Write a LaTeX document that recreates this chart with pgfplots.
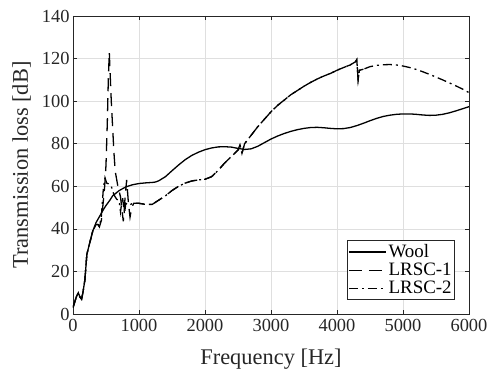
\documentclass[border=0pt]{standalone}
\usepackage{fontspec}
\setmainfont{Liberation Serif}
\usepackage{pgfplots}
\pgfplotsset{compat=1.18}
\definecolor{axgray}{RGB}{38,38,38}
\definecolor{gridgray}{RGB}{223,223,223}
\begin{document}
\begin{tikzpicture}
\begin{axis}[
  scale only axis, width=396bp, height=298bp,
  xmin=0, xmax=6000, ymin=0, ymax=140,
  xtick={0,1000,...,6000}, ytick={0,20,...,140},
  xticklabels={\textrm{0},\textrm{1000},\textrm{2000},\textrm{3000},\textrm{4000},\textrm{5000},\textrm{6000}},
  yticklabels={\textrm{0},\textrm{20},\textrm{40},\textrm{60},\textrm{80},\textrm{100},\textrm{120},\textrm{140}},
  tick label style={font=\fontsize{18.5}{20}\selectfont\rmfamily, text=axgray},
  xticklabel style={yshift=-2bp},
  label style={font=\fontsize{22.5}{24}\selectfont, text=axgray},
  xlabel={Frequency [Hz]}, ylabel={Transmission loss [dB]},
  xlabel style={yshift=-10bp}, ylabel style={yshift=4bp},
  axis line style={axgray, line width=0.6pt},
  tick style={axgray, line width=0.6pt}, tick align=inside,
  major tick length=4bp,
  grid=major, major grid style={gridgray, line width=0.6pt},
  legend style={at={(rel axis cs:0.9646,0.047)}, anchor=south east,
    font=\fontsize{19}{21}\selectfont, draw=axgray, line width=0.6pt, inner xsep=1bp, inner ysep=2.5bp,
    row sep=0bp, cells={anchor=west}},
  legend image code/.code={\draw[#1, line width=1.3pt] (0bp,0bp) -- (37bp,0bp);},
]
\addplot[black, line width=1.3pt, solid] coordinates {
(0,3) (20,5) (50,8) (80,10) (105,8) (130,7) (150,10) (180,16) (210,28) (250,33) (300,39)
(350,43) (400,45.7) (450,48.5) (500,51) (560,53.5) (600,55.5) (700,58) (800,59.7) (900,60.7)
(1000,61.3) (1100,61.6) (1200,61.8) (1250,62) (1300,62.6) (1400,64.5) (1500,67.3) (1600,70)
(1700,72.5) (1800,74.5) (1900,76) (2000,77.2) (2100,78) (2200,78.5) (2300,78.6) (2400,78.4)
(2500,77.8) (2600,77.3) (2700,77.6) (2800,78.8) (2900,80.5) (3000,82.2) (3100,83.6) (3200,84.8)
(3300,85.8) (3400,86.6) (3500,87.2) (3600,87.6) (3700,87.7) (3800,87.5) (3900,87.2) (4000,87)
(4100,87.1) (4200,87.6) (4300,88.5) (4400,89.6) (4500,90.8) (4600,91.9) (4700,92.8) (4800,93.4)
(4900,93.8) (5000,94) (5100,94) (5200,93.8) (5300,93.5) (5400,93.3) (5500,93.4) (5600,93.8)
(5700,94.5) (5800,95.4) (5900,96.4) (6000,97.4)
};
\addlegendentry{Wool}
\addplot[black, line width=1.3pt, dash pattern=on 13bp off 7bp] coordinates {
(0,3) (20,5) (50,8) (80,10) (105,8) (130,7) (150,10) (180,16) (210,28) (250,33) (300,39)
(350,42) (380,42) (400,41) (430,44) (450,50) (480,60) (500,70) (520,90) (535,110) (550,123)
(560,115) (580,100) (600,88) (620,76) (640,67) (680,60) (720,55) (762,43.5) (790,55) (813,63)
(840,52) (864,45.5) (890,50) (920,52) (1000,52) (1100,51.5) (1200,51.5) (1300,53.5) (1400,55.5)
(1500,58) (1600,60) (1700,61.5) (1800,62.5) (1900,63) (2000,63.3) (2100,64.5) (2200,67.5)
(2300,71) (2400,74) (2500,77) (2530,79.5) (2560,75.5) (2600,80) (2700,84) (2800,88) (2900,91.5)
(3000,95) (3100,98) (3200,100.5) (3300,103) (3400,105) (3500,107) (3600,108.8) (3700,110.4)
(3800,111.8) (3900,113) (4000,114.5) (4100,115.8) (4200,117) (4280,118.5) (4300,119.5)
(4320,110) (4340,114.5) (4400,115)
};
\addlegendentry{LRSC-1}
\addplot[black, line width=1.3pt, dash pattern=on 9bp off 4bp on 2bp off 4bp] coordinates {
(0,3) (20,5) (50,8) (80,10) (105,8) (130,7) (150,10) (180,16) (210,28) (250,33) (300,39)
(350,42) (380,42) (400,41) (430,46) (460,59) (485,64) (510,61.5) (550,61) (580,60) (620,56)
(660,54) (700,53) (720,48) (750,55) (780,47) (800,52) (850,51) (900,52) (1000,52) (1100,51.5)
(1200,51.5) (1300,53.5) (1400,55.5) (1500,58) (1600,60) (1700,61.5) (1800,62.5) (1900,63)
(2000,63.3) (2100,64.5) (2200,67.5) (2300,71) (2400,74) (2500,77) (2530,79.5) (2560,75.5)
(2600,80) (2700,84) (2800,88) (2900,91.5) (3000,95) (3100,98) (3200,100.5) (3300,103) (3400,105)
(3500,107) (3600,108.8) (3700,110.4) (3800,111.8) (3900,113) (4000,114.5) (4100,115.8)
(4200,117) (4280,118.5) (4300,119.5) (4320,110) (4340,114.5) (4400,115) (4500,116.2)
(4600,116.8) (4700,117.1) (4800,117.2) (4900,117) (5000,116.5) (5100,115.8) (5200,114.9)
(5300,113.8) (5400,112.6) (5500,111.3) (5600,110) (5700,108.6) (5800,107.2) (5900,105.7)
(6000,104)
};
\addlegendentry{LRSC-2}
\end{axis}
\pgfresetboundingbox
\path (-73bp,-60bp) rectangle (418bp,314bp);
\end{tikzpicture}
\end{document}
